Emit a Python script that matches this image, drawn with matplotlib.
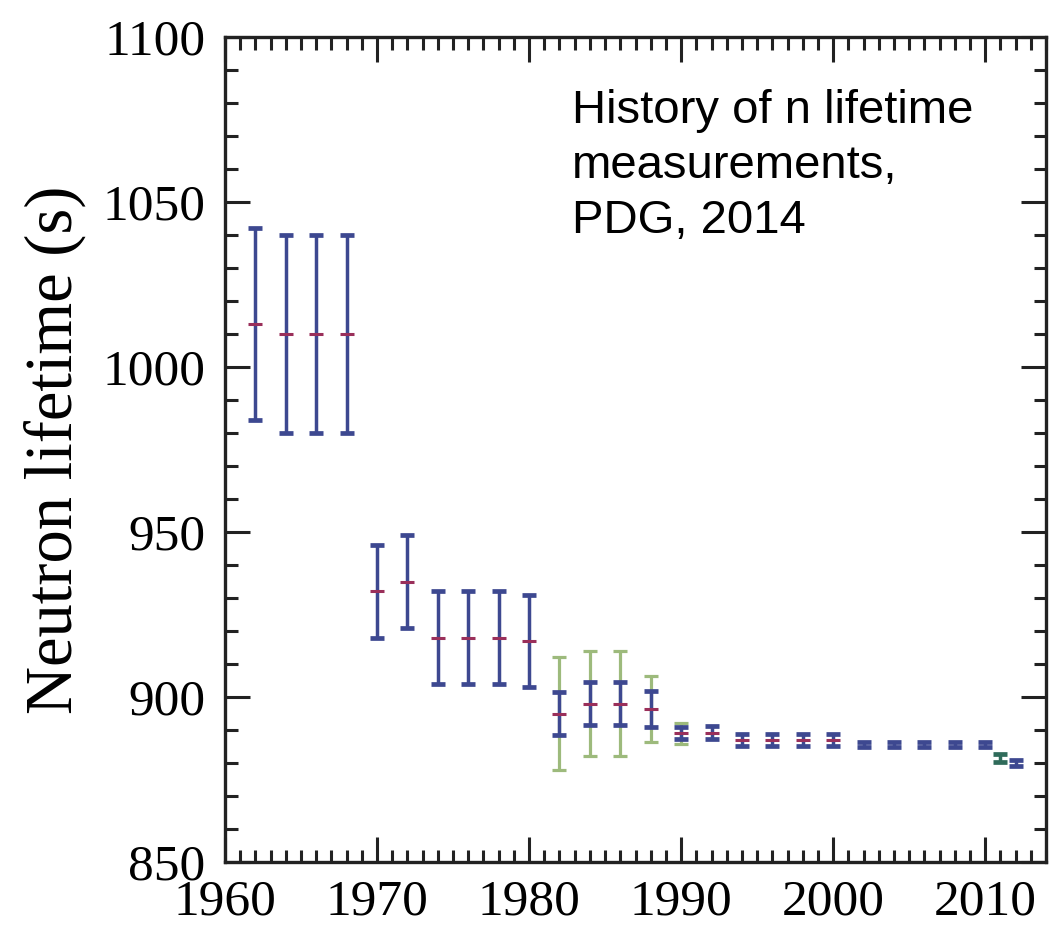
import numpy as np
import matplotlib.pyplot as plt
from matplotlib.ticker import MultipleLocator

# neutron lifetime measurements (s), PDG averages over the years
years = [1962, 1964, 1966, 1968, 1970, 1972, 1974, 1976, 1978, 1980,
         1982, 1984, 1986, 1988, 1990, 1992, 1994, 1996, 1998, 2000,
         2002, 2004, 2006, 2008, 2010, 2011, 2012]
tau = [1013, 1010, 1010, 1010, 932, 935, 918, 918, 918, 917,
       895, 898, 898, 896.4, 889, 889.2, 887, 887, 887, 887,
       885.7, 885.7, 885.7, 885.7, 885.7, 881.5, 880.0]
# inner (blue) error
err_in = [29, 30, 30, 30, 14, 14, 14, 14, 14, 14,
          6.4, 6.6, 6.6, 5.5, 1.8, 2.0, 1.8, 1.8, 1.8, 1.8,
          0.8, 0.8, 0.8, 0.8, 0.8, 1.2, 0.9]
# outer (green) error, only for some entries
err_out = [np.nan] * 10 + [17, 16, 16, 10, 3.1] + [np.nan] * 12

blue = '#3d4890'
red = '#9a2f5a'
green = '#9dba7c'
dark_green = '#2f6b5a'

years = np.array(years)
tau = np.array(tau)
err_in = np.array(err_in)
err_out = np.array(err_out)

plt.rcParams['font.family'] = ['Liberation Serif', 'DejaVu Serif']

fig = plt.figure(figsize=(10.5, 9.3), dpi=100)
ax = fig.add_axes([0.2143, 0.0731, 0.7819, 0.8871])

has_out = ~np.isnan(err_out)
ax.errorbar(years[has_out], tau[has_out], yerr=err_out[has_out], fmt='none',
            ecolor=green, elinewidth=2.3, capsize=5, capthick=2.3, zorder=2)

bar_colors = [dark_green if y == 2011 else blue for y in years]
for x, t, e, c in zip(years, tau, err_in, bar_colors):
    ax.errorbar(x, t, yerr=e, fmt='none', ecolor=c, elinewidth=2.5,
                capsize=5, capthick=3.4, zorder=3)
ax.plot(years[:20], tau[:20], ls='none', marker='_', ms=10, mew=2.2,
        color=red, zorder=4)

ax.set_xlim(1960, 2014)
ax.set_ylim(850, 1100)
ax.xaxis.set_major_locator(MultipleLocator(10))
ax.xaxis.set_minor_locator(MultipleLocator(1))
ax.yaxis.set_major_locator(MultipleLocator(50))
ax.yaxis.set_minor_locator(MultipleLocator(10))
ax.tick_params(which='both', direction='in', top=True, right=True,
               width=2.2, color='#222222')
ax.tick_params(which='major', length=18, labelsize=37, pad=12)
ax.tick_params(which='minor', length=9)
ax.tick_params(axis='y', pad=14)
for s in ax.spines.values():
    s.set_linewidth(2.4)
    s.set_color('#222222')

ax.set_ylabel('Neutron lifetime (s)', fontsize=48, labelpad=12)

ax.text(1982.8, 1040.6, 'History of n lifetime\nmeasurements,\nPDG, 2014',
        fontsize=34, family=['Liberation Sans', 'DejaVu Sans'],
        va='baseline', ha='left', linespacing=1.33)

fig.savefig('out.png', dpi=100)
